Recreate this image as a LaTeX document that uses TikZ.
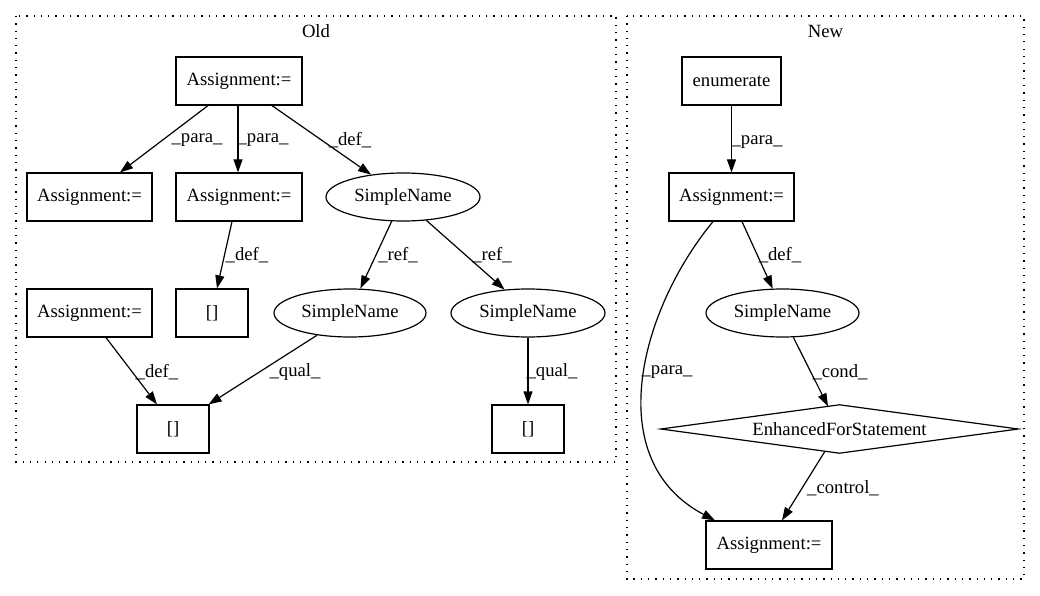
\documentclass[tikz,border=0pt]{standalone}
\usepackage{fontspec}
\setmainfont{Liberation Serif}
\usetikzlibrary{arrows.meta,calc,shapes.geometric}
\begin{document}
\begin{tikzpicture}[x=1pt,y=-1pt,
  every node/.style={font=\fontsize{18.67}{22}\selectfont},
  box/.style={draw, line width=1.2pt, minimum height=48, minimum width=#1, inner sep=0},
  oval/.style={draw, ellipse, line width=1.2pt, minimum width=154, minimum height=48, inner sep=0},
  edge/.style={draw, line width=1.2pt, -{Triangle[length=13pt,width=9pt]}},
  lbl/.style={inner sep=0},
  cluster/.style={draw, line width=1.2pt, dash pattern=on 1.3pt off 6pt}]
\useasboundingbox (0,0) rectangle (1040,596);
% clusters
\draw[cluster] (16,16) rectangle (616,462);
\node[lbl] (oldlbl) at (316,31) {Old};
\draw[cluster] (627,16) rectangle (1024,579);
\node[lbl] (newlbl) at (825.5,31) {New};
% Old nodes
\node[box=126] (oA0) at (239,81) {Assignment:=};
\node[box=125] (oA1) at (89.5,197) {Assignment:=};
\node[box=126] (oA2) at (239,197) {Assignment:=};
\node[oval] (oS1) at (403,197) {SimpleName};
\node[box=125] (oA3) at (89.5,313) {Assignment:=};
\node[box=72] (oB1) at (212,313) {[]};
\node[oval, minimum width=152] (oS2) at (350,313) {SimpleName};
\node[oval] (oS3) at (528,313) {SimpleName};
\node[box=72] (oB2) at (173,429) {[]};
\node[box=72] (oB3) at (528,429) {[]};
% New nodes
\node[box=99] (nE) at (731.5,81) {enumerate};
\node[box=125] (nA) at (731.5,197) {Assignment:=};
\node[oval, minimum width=153] (nS) at (782.5,313) {SimpleName};
\node[minimum width=357, minimum height=48, inner sep=0] (nD) at (839.5,429) {EnhancedForStatement};
\draw[line width=1.2pt] (nD.north) -- (nD.east) -- (nD.south) -- (nD.west) -- cycle;
\node[box=126] (nB) at (769,545) {Assignment:=};
% Old edges
\draw[edge] ([xshift=-31pt]oA0.south) -- ([xshift=30.5pt]oA1.north);
\draw[edge] ([xshift=-1pt]oA0.south) -- ([xshift=-1pt]oA2.north);
\draw[edge] ([xshift=33pt]oA0.south) -- (oS1.145);
\draw[edge] ([xshift=-7pt]oA2.south) -- ([xshift=5pt]oB1.north);
\draw[edge] (oS1.-115) -- (oS2.67);
\draw[edge] (oS1.-45) -- (oS3.135);
\draw[edge] ([xshift=16.5pt]oA3.south) -- ([xshift=-16pt]oB2.north);
\draw[edge] (oS2.-146) -- ([xshift=-1pt]oB2.north east);
\draw[edge] (oS3) -- (oB3);
% New edges
\draw[edge] (nE) -- (nA);
\draw[edge] ([xshift=10.5pt]nA.south) -- (nS.112);
\draw[edge] (nS.-66) -- ($(nD.north)+(-11.5,1.5)$);
\draw[edge] ($(nD.south)+(-14.5,-2)$) -- ([xshift=13pt]nB.north);
\draw[edge] ([xshift=-18.5pt]nA.south) .. controls (640,310) and (600,460) .. ([xshift=-54pt]nB.north);
% labels
\node[lbl] (l1) at (197,140) {\_para\_};
\node[lbl] (l2) at (263,140) {\_para\_};
\node[lbl] (l3) at (350,140) {\_def\_};
\node[lbl] (l4) at (247,255) {\_def\_};
\node[lbl] (l5) at (398,255) {\_ref\_};
\node[lbl] (l6) at (492,255) {\_ref\_};
\node[lbl] (l7) at (157,372) {\_def\_};
\node[lbl] (l8) at (295,372) {\_qual\_};
\node[lbl] (l9) at (552,372) {\_qual\_};
\node[lbl] (l10) at (757,142) {\_para\_};
\node[lbl] (l11) at (780,255) {\_def\_};
\node[lbl] (l12) at (667,372) {\_para\_};
\node[lbl] (l13) at (840,372) {\_cond\_};
\node[lbl] (l14) at (843,488) {\_control\_};
\end{tikzpicture}
\end{document}
